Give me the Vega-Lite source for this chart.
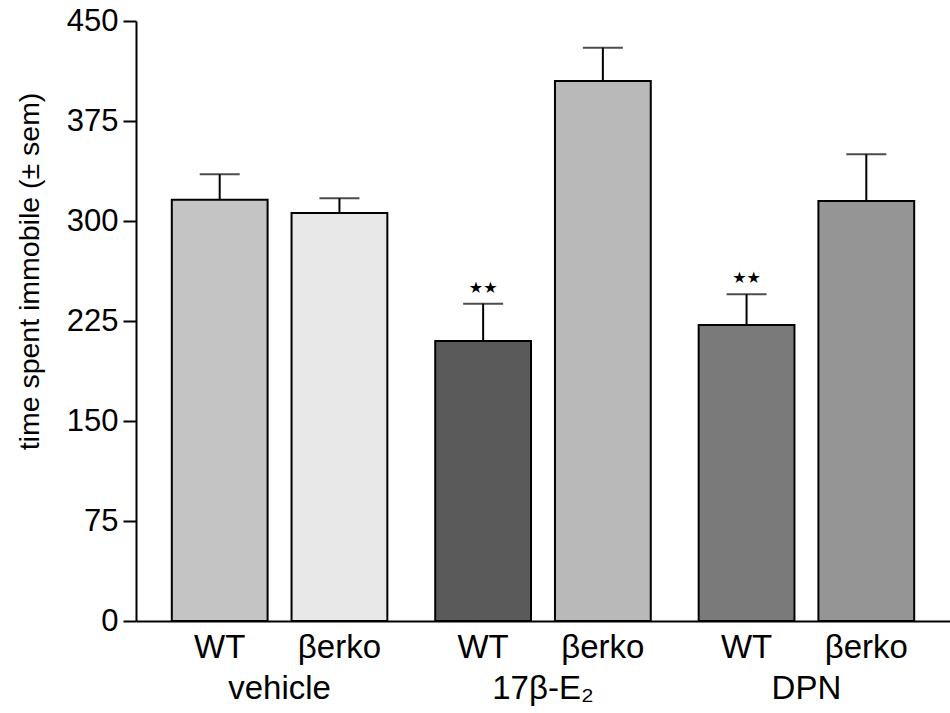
{
  "$schema": "https://vega.github.io/schema/vega-lite/v6.json",
  "width": 814,
  "height": 600,
  "autosize": {"type": "none"},
  "padding": {"left": 136, "top": 21, "right": 0, "bottom": 92},
  "background": "white",
  "config": {
    "view": {"stroke": null},
    "font": "Liberation Sans"
  },
  "data": {
    "values": [
      {"id": "vehicle WT", "treatment": "vehicle", "genotype": "WT", "mean": 316, "err_top": 335, "sig": ""},
      {"id": "vehicle βerko", "treatment": "vehicle", "genotype": "βerko", "mean": 306, "err_top": 317, "sig": ""},
      {"id": "E2 WT", "treatment": "17β-E₂", "genotype": "WT", "mean": 210, "err_top": 238, "sig": "★★"},
      {"id": "E2 βerko", "treatment": "17β-E₂", "genotype": "βerko", "mean": 405, "err_top": 430, "sig": ""},
      {"id": "DPN WT", "treatment": "DPN", "genotype": "WT", "mean": 222, "err_top": 245, "sig": "★★"},
      {"id": "DPN βerko", "treatment": "DPN", "genotype": "βerko", "mean": 315, "err_top": 350, "sig": ""}
    ]
  },
  "encoding": {
    "x": {
      "field": "treatment",
      "type": "nominal",
      "sort": ["vehicle", "17β-E₂", "DPN"],
      "scale": {"paddingInner": 0, "paddingOuter": 0.045},
      "axis": {
        "title": null,
        "labelAngle": 0,
        "ticks": false,
        "domain": true,
        "domainColor": "black",
        "domainWidth": 2,
        "labelFontSize": 33,
        "labelColor": "black",
        "labelPadding": 77,
        "labelBaseline": "alphabetic"
      }
    },
    "xOffset": {
      "field": "genotype",
      "type": "nominal",
      "sort": ["WT", "βerko"],
      "scale": {"paddingInner": 0.2, "paddingOuter": 0.2}
    }
  },
  "layer": [
    {
      "mark": {"type": "rule", "stroke": "black", "strokeWidth": 2},
      "encoding": {
        "y": {"field": "mean", "type": "quantitative"},
        "y2": {"field": "err_top"}
      }
    },
    {
      "mark": {"type": "tick", "color": "black", "size": 40, "thickness": 2, "orient": "horizontal"},
      "encoding": {
        "y": {"field": "err_top", "type": "quantitative"}
      }
    },
    {
      "mark": {"type": "bar", "stroke": "black", "strokeWidth": 2},
      "encoding": {
        "y": {
          "field": "mean",
          "type": "quantitative",
          "scale": {"domain": [0, 450], "nice": false},
          "axis": {
            "title": "time spent immobile (± sem)",
            "titleFontSize": 28.5,
            "titleFontWeight": "normal",
            "titleColor": "black",
            "titleX": -107,
            "titleY": 250,
            "titleAnchor": "middle",
            "titleBaseline": "middle",
            "values": [0, 75, 150, 225, 300, 375, 450],
            "grid": false,
            "domainColor": "black",
            "domainWidth": 2,
            "tickColor": "black",
            "tickWidth": 2,
            "tickSize": 13,
            "labelFontSize": 31,
            "labelColor": "black",
            "labelPadding": 5
          }
        },
        "color": {
          "field": "id",
          "type": "nominal",
          "scale": {
            "domain": ["vehicle WT", "vehicle βerko", "E2 WT", "E2 βerko", "DPN WT", "DPN βerko"],
            "range": ["#c4c4c4", "#e8e8e8", "#5a5a5a", "#b9b9b9", "#7a7a7a", "#959595"]
          },
          "legend": null
        }
      }
    },
    {
      "mark": {"type": "text", "fontSize": 16, "font": "DejaVu Sans", "color": "black", "dy": -16, "baseline": "middle"},
      "encoding": {
        "y": {"field": "err_top", "type": "quantitative"},
        "text": {"field": "sig"}
      }
    },
    {
      "mark": {"type": "text", "fontSize": 33, "color": "black", "dy": 37, "baseline": "alphabetic"},
      "encoding": {
        "y": {"datum": 0, "type": "quantitative"},
        "text": {"field": "genotype"}
      }
    }
  ]
}
